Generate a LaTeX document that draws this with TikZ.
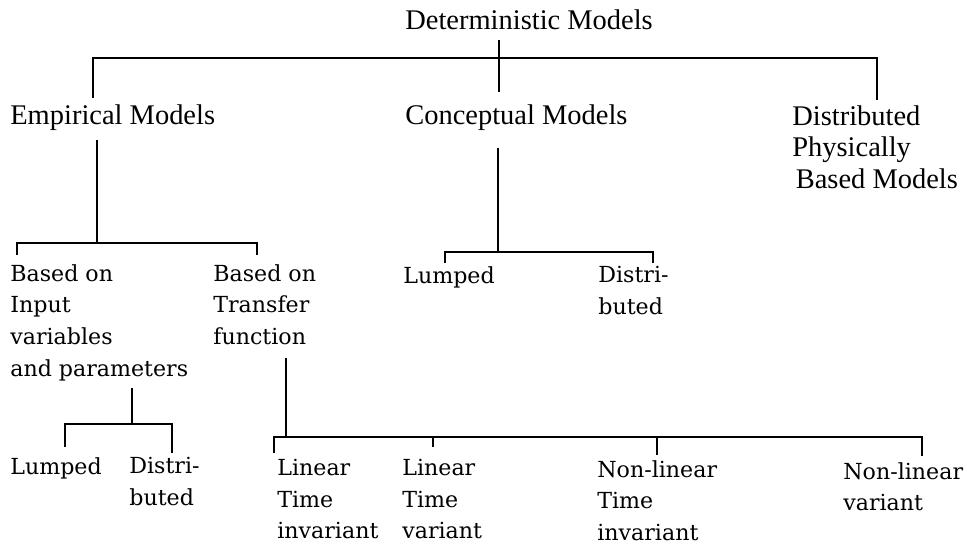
\documentclass[tikz,border=0pt]{standalone}
\usepackage{fontspec}
\setmainfont{Liberation Serif}
\newfontfamily\botfont{DejaVu Serif}
\begin{document}
\begin{tikzpicture}[x=0.02cm,y=-0.02cm,
  toptext/.style={font=\fontsize{16.2}{18.1}\selectfont, anchor=north west, inner sep=0pt, align=left},
  bottext/.style={font=\botfont\fontsize{12.6}{18}\selectfont, anchor=north west, inner sep=0pt, align=left},
  link/.style={line width=1pt, line join=miter}]
\useasboundingbox (0,0) rectangle (967,546);
% nodes
\node[toptext] (det) at (405,9) {Deterministic Models};
\node[toptext] (emp) at (10,104) {Empirical Models};
\node[toptext] (con) at (405,104) {Conceptual Models};
\node[toptext] (dpb) at (792,105) {Distributed\\Physically\\\hspace*{2pt}Based Models};
\node[bottext] (inp) at (10,264) {Based on\\Input\\variables\\and parameters};
\node[bottext] (tra) at (213,264) {Based on\\Transfer\\function};
\node[bottext] (clu) at (403,266) {Lumped};
\node[bottext] (cdi) at (598,266) {Distri-\\buted};
\node[bottext] (elu) at (10,457) {Lumped};
\node[bottext] (edi) at (129,457) {Distri-\\buted};
\node[bottext] (lti) at (277,459) {Linear\\Time\\invariant};
\node[bottext] (ltv) at (402,459) {Linear\\Time\\variant};
\node[bottext] (nti) at (597,460) {Non-linear\\Time\\invariant};
\node[bottext] (nlv) at (843,462) {Non-linear\\variant};
% junction coordinates
\coordinate (r0) at (499,40);   \coordinate (r1) at (499,92);
\coordinate (a1) at (93,98);    \coordinate (a2) at (93,58);
\coordinate (a3) at (877,58);   \coordinate (a4) at (877,100);
\coordinate (e0) at (97,140);   \coordinate (e1) at (97,243);
\coordinate (e2) at (17,255);   \coordinate (e3) at (17,243);
\coordinate (e4) at (257,243);  \coordinate (e5) at (257,255);
\coordinate (c0) at (498,148);  \coordinate (c1) at (498,252);
\coordinate (c2) at (445,263);  \coordinate (c3) at (445,252);
\coordinate (c4) at (653,252);  \coordinate (c5) at (653,263);
\coordinate (i0) at (132,388);  \coordinate (i1) at (132,424);
\coordinate (i2) at (65,447);   \coordinate (i3) at (65,424);
\coordinate (i4) at (172,424);  \coordinate (i5) at (172,453);
\coordinate (t0) at (286,358);  \coordinate (t1) at (286,437);
\coordinate (t2) at (274,453);  \coordinate (t3) at (274,437);
\coordinate (t4) at (922,437);  \coordinate (t5) at (922,456);
\coordinate (t6) at (433,437);  \coordinate (t7) at (433,447);
\coordinate (t8) at (657,437);  \coordinate (t9) at (657,455);
% connectors
\draw[link] (r0) -- (r1);
\draw[link] (a1) -- (a2) -- (a3) -- (a4);
\draw[link] (e0) -- (e1);
\draw[link] (e2) -- (e3) -- (e4) -- (e5);
\draw[link] (c0) -- (c1);
\draw[link] (c2) -- (c3) -- (c4) -- (c5);
\draw[link] (i0) -- (i1);
\draw[link] (i2) -- (i3) -- (i4) -- (i5);
\draw[link] (t0) -- (t1);
\draw[link] (t2) -- (t3) -- (t4) -- (t5);
\draw[link] (t6) -- (t7);
\draw[link] (t8) -- (t9);
\end{tikzpicture}
\end{document}
